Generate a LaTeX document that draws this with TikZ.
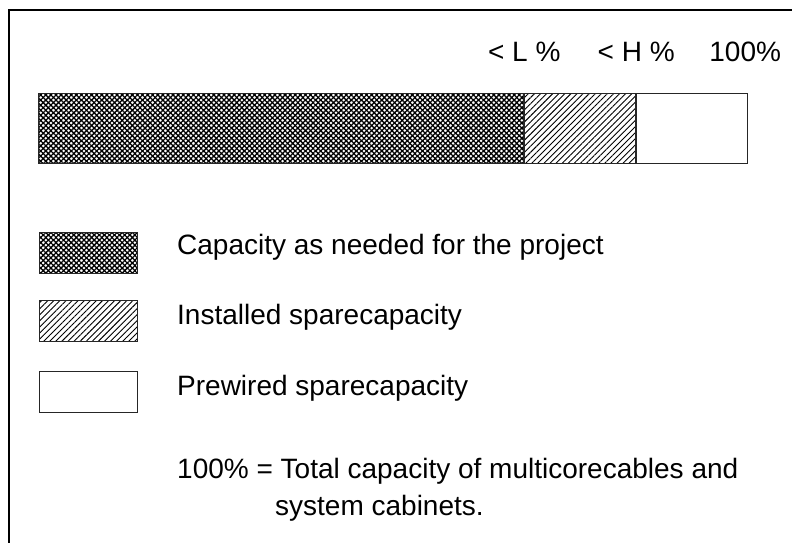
\documentclass[tikz,border=0pt]{standalone}
\usepackage{fontspec}
\setmainfont{Liberation Sans}
\usetikzlibrary{patterns.meta,positioning}

\tikzset{
  box/.style={draw=black!85, line width=1pt, rectangle, inner sep=0pt, anchor=north west},
  needfill/.style={preaction={pattern={Lines[angle=45,distance=3.6pt,line width=1.3pt]}},
                   pattern={Lines[angle=-45,distance=3.6pt,line width=1.3pt]}},
  sparefill/.style={pattern={Lines[angle=45,distance=4.3pt,line width=0.9pt]}},
  label/.style={font=\fontsize{28}{32}\selectfont, inner sep=0pt},
}

\begin{document}
\begin{tikzpicture}[x=1pt,y=-1pt]
  \useasboundingbox (0,0) rectangle (792,543);
  % frame
  \draw[line width=2pt] (792,10) -- (9,10) -- (9,543);

  % capacity bar
  \node[box, needfill, minimum width=485pt, minimum height=70pt] (need) at (38,93) {};
  \node[box, sparefill, minimum width=111pt, minimum height=70pt] (spare) at (need.north east) {};
  \node[box, minimum width=111pt, minimum height=70pt] (prewired) at (spare.north east) {};

  \node[label, anchor=base] (lowlim) at ([yshift=31pt]need.north east) {< L \%};
  \node[label, anchor=base] (highlim) at ([yshift=31pt]spare.north east) {< H \%};
  \node[label, anchor=base] (full) at ([xshift=-3pt,yshift=31pt]prewired.north east) {100\%};

  % legend
  \node[box, needfill, minimum width=98pt, minimum height=41pt] (kneed) at (39,232) {};
  \node[box, sparefill, minimum width=98pt, minimum height=41pt] (kspare) at (39,300) {};
  \node[box, minimum width=98pt, minimum height=41pt] (kpre) at (39,371) {};

  \node[label, anchor=base west] (tneed) at (177,254) {Capacity as needed for the project};
  \node[label, anchor=base west] (tspare) at (177,324) {Installed sparecapacity};
  \node[label, anchor=base west] (tpre) at (177,395) {Prewired sparecapacity};

  \node[label, anchor=base west] (note1) at (177,478) {100\% = Total capacity of multicorecables and};
  \node[label, anchor=base west] (note2) at (275,515) {system cabinets.};
\end{tikzpicture}
\end{document}
